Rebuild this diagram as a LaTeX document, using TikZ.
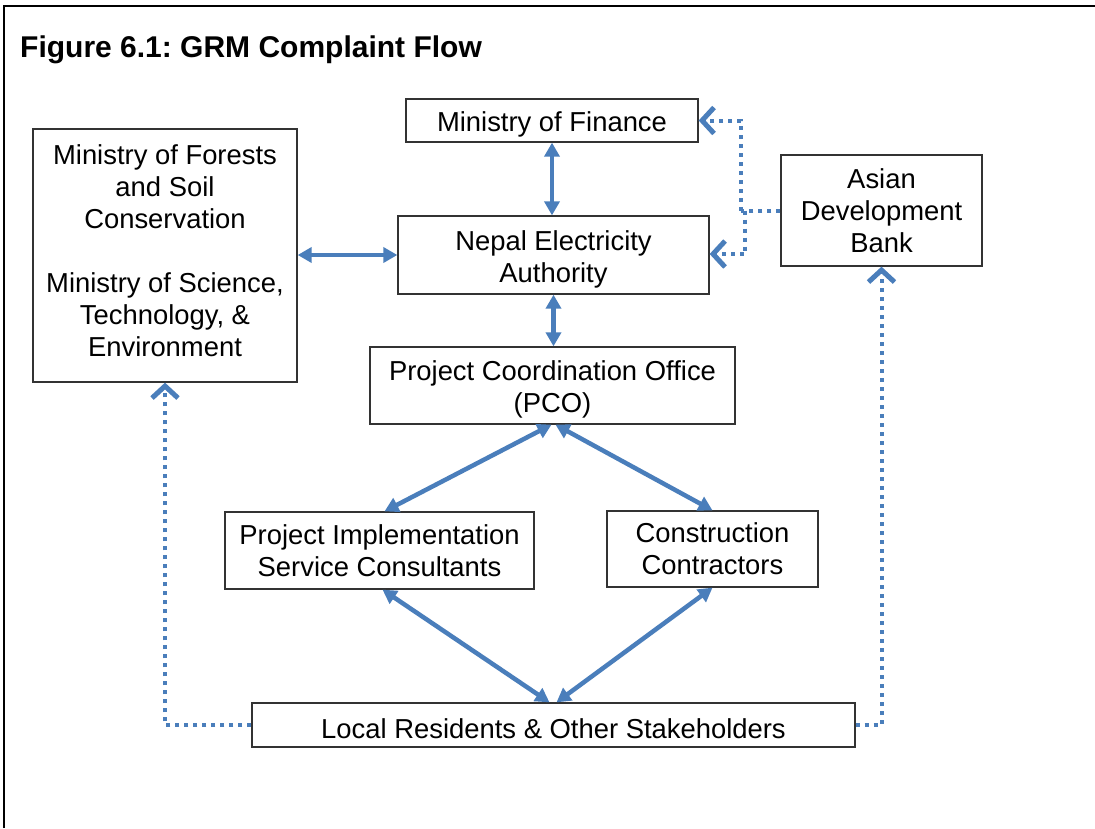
\documentclass[tikz,border=0pt]{standalone}
\usepackage{fontspec}
\setmainfont{Liberation Sans}
\usetikzlibrary{arrows.meta,calc}
\definecolor{arrblue}{HTML}{4A7EBB}
\frenchspacing
\tikzset{
  box/.style={draw=black!80, line width=1.3pt, fill=white, inner sep=0pt, align=center,
    font=\fontsize{27.4pt}{32pt}\selectfont\frenchspacing},
  solidarr/.style={draw=arrblue, line width=4.5pt, {Triangle[length=14pt,width=15pt]}-{Triangle[length=14pt,width=15pt]}},
  dotarr/.style={draw=arrblue, line width=4pt, dash pattern=on 4pt off 5pt, -{Straight Barb[length=12pt,width=26pt,line width=5pt]}},
  dotline/.style={draw=arrblue, line width=4pt, dash pattern=on 4pt off 5pt}
}
\begin{document}
\begin{tikzpicture}[x=1pt,y=-1pt]
\useasboundingbox (0,0) rectangle (1095,828);
\fill[white] (0,0) rectangle (1095,828);
\draw[line width=2pt] (3.5,828) -- (3.5,5.5) -- (1095,5.5);
\node[anchor=base west, font=\fontsize{30pt}{36pt}\selectfont\bfseries\frenchspacing, inner sep=0pt] (title) at (20,57) {Figure 6.1: GRM Complaint Flow};

\node[box, minimum width=292pt, minimum height=43pt, text height=27pt] (mof) at (552,120.5) {Ministry of Finance};
\node[box, minimum width=264pt, minimum height=253pt, text depth=10pt] (mofsc) at (165,255.5) {Ministry of Forests\\and Soil\\Conservation\\[32pt]Ministry of Science,\\Technology, \&\\Environment};
\node[box, minimum width=311pt, minimum height=78pt, text height=60pt] (nea) at (553.5,255) {Nepal Electricity\\Authority};
\node[box, minimum width=201pt, minimum height=111pt] (adb) at (881.5,210.5) {Asian\\Development\\Bank};
\node[box, minimum width=365pt, minimum height=77pt, text height=60pt] (pco) at (552.5,385.5) {Project Coordination Office\\(PCO)};
\node[box, minimum width=309pt, minimum height=77pt] (pisc) at (379.5,550.5) {Project Implementation\\Service Consultants};
\node[box, minimum width=211pt, minimum height=76pt] (cc) at (712.5,549) {Construction\\Contractors};
\node[box, minimum width=603pt, minimum height=44pt, text height=27pt] (lr) at (553.5,725) {Local Residents \& Other Stakeholders};

% solid double arrows
\draw[solidarr] (mof.south) -- (mof.south |- nea.north);
\draw[solidarr] (mofsc.east |- nea.west) -- (nea.west);
\draw[solidarr] (nea.south) -- (nea.south |- pco.north);
\draw[solidarr] ([xshift=-1pt]pco.south) -- ([xshift=5pt]pisc.north);
\draw[solidarr] ([xshift=3pt]pco.south) -- (cc.north);
\draw[solidarr] ([xshift=3pt]pisc.south) -- ([xshift=-4pt]lr.north);
\draw[solidarr] (cc.south) -- ([xshift=3pt]lr.north);

% dotted connectors
\coordinate (branch) at (741,210.5);
\draw[dotline] (adb.west) -- (branch);
\draw[dotarr] (branch) |- (mof.east);
\draw[dotarr] ([xshift=4pt]branch) |- ([yshift=1pt]nea.east);
\draw[dotarr] (lr.west) -| (mofsc.south);
\draw[dotarr] (lr.east) -| (adb.south);
\end{tikzpicture}
\end{document}
